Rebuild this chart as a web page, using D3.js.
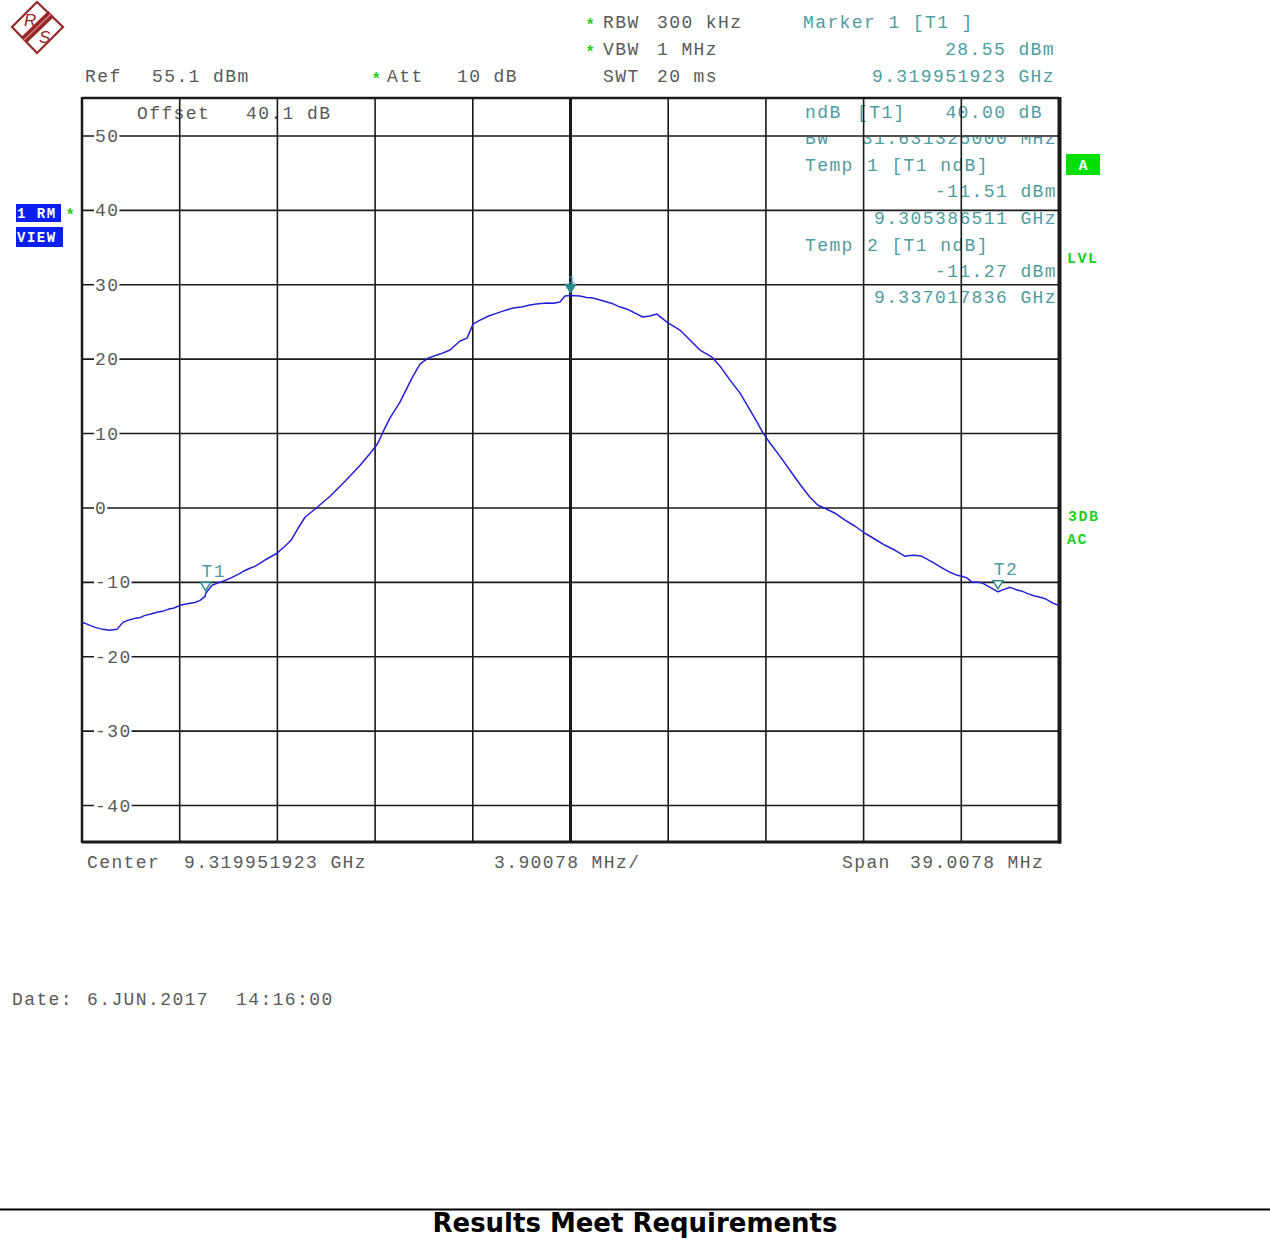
<!DOCTYPE html>
<html><head><meta charset="utf-8">
<script src="https://cdn.jsdelivr.net/npm/d3@7/dist/d3.min.js"></script>
<style>
html,body{margin:0;padding:0;background:#fff;}
svg text.mono{font-family:"Liberation Mono","DejaVu Sans Mono",monospace;font-size:18px;letter-spacing:1.4px;}
</style></head>
<body>
<svg id="c" width="1270" height="1239"></svg>
<script>
// ---------------- DATA ----------------
const centerGHz = 9.319951923;
const spanMHz = 39.0078;
const refLevel = 55.1;           // dBm, top of screen
const dbPerDiv = 10;
const yTickValues = [50, 40, 30, 20, 10, 0, -10, -20, -30, -40];
const yTickLabels = ["50", "40", "30", "20", "10", "0", "-10", "-20", "-30", "-40"];

// trace: frequency offset from center (MHz) and level (dBm)
const freqOffsetMHz = [-19.50,-19.38,-18.98,-18.67,-18.39,-18.11,-17.87,-17.63,-17.39,-17.19,-16.99,-16.79,-16.51,-16.29,-16.07,-15.83,-15.59,-15.39,-15.19,-15.00,-14.79,-14.59,-14.57,-14.31,-14.09,-13.87,-13.55,-13.20,-13.00,-12.80,-12.60,-12.40,-12.20,-12.00,-11.72,-11.36,-11.16,-10.88,-10.60,-10.16,-9.60,-9.00,-8.40,-7.93,-7.69,-7.49,-7.21,-6.81,-6.33,-6.01,-5.69,-5.21,-4.81,-4.41,-4.13,-3.89,-3.61,-3.27,-2.93,-2.62,-2.30,-1.96,-1.62,-1.28,-0.94,-0.68,-0.42,-0.22,0.00,0.38,0.64,0.90,1.18,1.46,1.72,1.98,2.24,2.50,2.89,3.17,3.45,3.85,4.37,4.89,5.17,5.65,5.97,6.37,6.77,7.17,7.45,7.69,7.97,8.36,8.76,9.16,9.56,9.88,10.16,10.56,10.96,11.36,11.76,12.16,12.56,12.96,13.36,13.55,13.75,14.03,14.47,14.80,15.15,15.40,15.63,15.83,16.03,16.25,16.47,16.75,17.07,17.31,17.55,17.87,18.00,18.23,18.50,18.75,18.95,19.14,19.30,19.50];
const levelDbm = [-15.40,-15.51,-16.05,-16.32,-16.45,-16.32,-15.38,-15.05,-14.84,-14.75,-14.44,-14.30,-14.03,-13.90,-13.63,-13.45,-13.09,-12.95,-12.82,-12.70,-12.42,-11.88,-11.51,-10.40,-10.10,-9.86,-9.40,-8.79,-8.40,-8.11,-7.85,-7.44,-7.00,-6.63,-6.09,-5.02,-4.35,-2.73,-1.25,-0.04,1.57,3.59,5.74,7.63,8.70,10.18,12.07,14.22,17.45,19.33,20.14,20.68,21.22,22.43,22.83,24.71,25.25,25.80,26.19,26.55,26.87,27.00,27.27,27.45,27.54,27.50,27.67,28.48,28.55,28.48,28.30,28.21,27.95,27.67,27.40,27.00,26.75,26.33,25.66,25.79,26.06,24.98,23.91,22.16,21.22,20.27,19.06,17.18,15.43,13.14,11.53,10.05,8.70,6.96,5.07,3.19,1.44,0.36,-0.04,-0.71,-1.65,-2.46,-3.40,-4.21,-5.02,-5.69,-6.50,-6.40,-6.36,-6.50,-7.31,-8.00,-8.65,-9.00,-9.19,-9.40,-10.00,-9.95,-10.13,-10.67,-11.27,-10.94,-10.67,-11.07,-11.15,-11.48,-11.80,-12.01,-12.20,-12.55,-12.85,-13.09];

// markers
const markerLabels = ["1", "T1", "T2"];
const markerOffsetMHz = [0.0, -14.565412, 17.065913];
const markerLevel = [28.55, -11.51, -11.27];
const markerFilled = [true, false, false];

// annotation text
const rightPanel = [
  ["ndB", "[T1]", "40.00 dB"],
  ["BW", "", "31.631325000 MHz"],
  ["Temp", "1 [T1 ndB]", ""],
  ["", "", "-11.51 dBm"],
  ["", "", "9.305386511 GHz"],
  ["Temp", "2 [T1 ndB]", ""],
  ["", "", "-11.27 dBm"],
  ["", "", "9.337017836 GHz"]
];

// ---------------- DRAW ----------------
const svg = d3.select("#c");
const L = 82, R = 1059, T = 98, B = 842;
const x = d3.scaleLinear().domain([-spanMHz/2, spanMHz/2]).range([L, R]);
const y = d3.scaleLinear().domain([refLevel - 10*dbPerDiv, refLevel]).range([B, T]);
const gray = "#5a5a5a", teal = "#4f9d9d", green = "#22d022", blue = "#2222d4";

function mono(t, px, py, col, anchor, parent) {
  return (parent || svg).append("text").attr("class", "mono").attr("x", px).attr("y", py)
    .attr("fill", col || gray).attr("text-anchor", anchor || "start").text(t);
}
function star(px, py) {
  svg.append("text").attr("x", px).attr("y", py).attr("fill", green)
    .attr("font-family", "Liberation Sans").attr("font-weight", "bold").attr("font-size", 16).text("*");
}

// logo
const logo = svg.append("g").attr("stroke", "#962828").attr("fill", "none");
logo.append("polygon").attr("points", "37,2 63,27 37,53 12,27").attr("stroke-width", 2.2);
logo.append("line").attr("x1", 51).attr("y1", 14).attr("x2", 24).attr("y2", 40).attr("stroke-width", 8);
logo.append("line").attr("x1", 51).attr("y1", 14).attr("x2", 24).attr("y2", 40).attr("stroke-width", 1.4).attr("stroke", "#d88080");
svg.append("text").attr("x", 24).attr("y", 26).attr("fill", "#962828").attr("font-family", "Liberation Sans")
  .attr("font-size", 17).attr("font-style", "italic").text("R");
svg.append("text").attr("x", 39).attr("y", 43).attr("fill", "#962828").attr("font-family", "Liberation Sans")
  .attr("font-size", 17).attr("font-style", "italic").text("S");

// header
mono("Ref", 85, 82);
mono("55.1 dBm", 152, 82);
star(373, 84); mono("Att", 387, 82); mono("10 dB", 457, 82);
star(587, 30); mono("RBW", 603, 28); mono("300 kHz", 657, 28);
star(587, 57); mono("VBW", 603, 55); mono("1 MHz", 657, 55);
mono("SWT", 603, 82); mono("20 ms", 657, 82);
mono("Marker 1 [T1 ]", 803, 28, teal);
mono("28.55 dBm", 1055, 55, teal, "end");
mono("9.319951923 GHz", 1055, 82, teal, "end");

// in-plot texts (below grid)
mono("Offset", 137, 119);
mono("40.1 dB", 246, 119);
const rowY = [118, 144, 171, 197, 224, 251, 277, 303];
svg.append("clipPath").attr("id", "bwclip").append("rect").attr("x", 780).attr("y", 137).attr("width", 300).attr("height", 20);
rightPanel.forEach((r, i) => {
  const g = i === 1 ? svg.append("g").attr("clip-path", "url(#bwclip)") : svg;
  if (r[0]) mono(r[0], 805, rowY[i], teal, "start", g);
  if (r[1]) mono(r[1], i === 0 ? 857 : 867, rowY[i], teal, "start", g);
  if (r[2]) mono(r[2], i === 0 ? 1043 : 1057, rowY[i], teal, "end", g);
});

// grid
const grid = svg.append("g").attr("stroke", "#1a1a1a");
d3.range(1, 10).forEach(i => {
  const gx = x(-spanMHz/2 + i*spanMHz/10);
  grid.append("line").attr("x1", gx).attr("x2", gx).attr("y1", T).attr("y2", B)
    .attr("stroke-width", i === 5 ? 3 : 1.6);
});
yTickValues.forEach(v => {
  grid.append("line").attr("x1", L).attr("x2", R).attr("y1", y(v)).attr("y2", y(v)).attr("stroke-width", 1.6);
});
// frame
grid.append("line").attr("x1", L).attr("x2", L).attr("y1", T-1).attr("y2", B+1).attr("stroke-width", 2.5);
grid.append("line").attr("x1", L).attr("x2", R).attr("y1", T).attr("y2", T).attr("stroke-width", 2.5);
grid.append("line").attr("x1", L).attr("x2", R+2).attr("y1", B).attr("y2", B).attr("stroke-width", 2.8);
grid.append("line").attr("x1", R+0.5).attr("x2", R+0.5).attr("y1", T-1).attr("y2", B+1.5).attr("stroke-width", 4);

// y labels with white background
yTickValues.forEach((v, i) => {
  const t = svg.append("text").attr("class", "mono").attr("x", 95).attr("y", y(v) + 6)
    .attr("fill", gray).text(yTickLabels[i]);
  const bb = t.node().getBBox();
  svg.insert("rect", () => t.node()).attr("x", bb.x - 1).attr("y", y(v) - 4).attr("width", bb.width + 1).attr("height", 8).attr("fill", "#fff");
});

// trace
const pts = freqOffsetMHz.map((f, i) => [f, levelDbm[i]]);
svg.append("path").datum(pts)
  .attr("d", d3.line().x(d => x(d[0])).y(d => y(d[1])))
  .attr("fill", "none").attr("stroke", blue).attr("stroke-width", 1.5).attr("stroke-linejoin", "round");

// markers
markerLabels.forEach((lab, i) => {
  const mx = x(markerOffsetMHz[i]), my = y(markerLevel[i]) - 3;
  svg.append("path").attr("d", `M${mx-5},${my-8}L${mx+5},${my-8}L${mx},${my}Z`)
    .attr("fill", markerFilled[i] ? "#2a8a8a" : "#fff").attr("stroke", "#2a8a8a").attr("stroke-width", 1.5);
  if (lab === "1") {
    svg.append("text").attr("x", mx + 1).attr("y", my - 10).attr("text-anchor", "middle").attr("fill", teal)
      .attr("font-family", "Liberation Mono").attr("font-size", 11).text(lab);
  } else {
    mono(lab, mx + 8, my - 14, teal, "middle");
  }
});

// left boxes
svg.append("rect").attr("x", 16).attr("y", 204).attr("width", 45).attr("height", 18).attr("fill", "#0a1ef0");
svg.append("text").attr("x", 17).attr("y", 218).attr("fill", "#fff").attr("font-family", "Liberation Mono")
  .attr("font-weight", "bold").attr("font-size", 14).attr("letter-spacing", 1.5).text("1 RM");
svg.append("rect").attr("x", 16).attr("y", 227).attr("width", 47).attr("height", 20).attr("fill", "#0a1ef0");
svg.append("text").attr("x", 17).attr("y", 242).attr("fill", "#fff").attr("font-family", "Liberation Mono")
  .attr("font-weight", "bold").attr("font-size", 14).attr("letter-spacing", 1.5).text("VIEW");
star(67, 220);

// right indicators
svg.append("rect").attr("x", 1066).attr("y", 154).attr("width", 34).attr("height", 21).attr("fill", "#00e000");
svg.append("text").attr("x", 1083).attr("y", 170).attr("text-anchor", "middle").attr("fill", "#fff")
  .attr("font-family", "Liberation Mono").attr("font-weight", "bold").attr("font-size", 15).text("A");
[["LVL", 1067, 263], ["3DB", 1068, 521], ["AC", 1067, 544]].forEach(d => {
  svg.append("text").attr("x", d[1]).attr("y", d[2]).attr("fill", green).attr("font-family", "Liberation Mono")
    .attr("font-weight", "bold").attr("font-size", 15).attr("letter-spacing", 1.5).text(d[0]);
});

// bottom texts
mono("Center", 87, 868); mono("9.319951923 GHz", 184, 868);
mono("3.90078 MHz/", 494, 868);
mono("Span", 842, 868); mono("39.0078 MHz", 910, 868);
mono("Date:", 12, 1005); mono("6.JUN.2017", 87, 1005); mono("14:16:00", 236, 1005);

// footer
svg.append("line").attr("x1", 0).attr("x2", 1270).attr("y1", 1209.5).attr("y2", 1209.5).attr("stroke", "#000").attr("stroke-width", 2);
const foot = svg.append("text").attr("x", 635).attr("y", 1232).attr("text-anchor", "middle").attr("fill", "#000")
  .attr("font-family", "DejaVu Sans").attr("font-weight", "bold").attr("font-size", 24).text("Results Meet Requirements");
const fw = foot.node().getComputedTextLength();
foot.attr("font-size", 24 * 405 / fw);
</script>
</body></html>
